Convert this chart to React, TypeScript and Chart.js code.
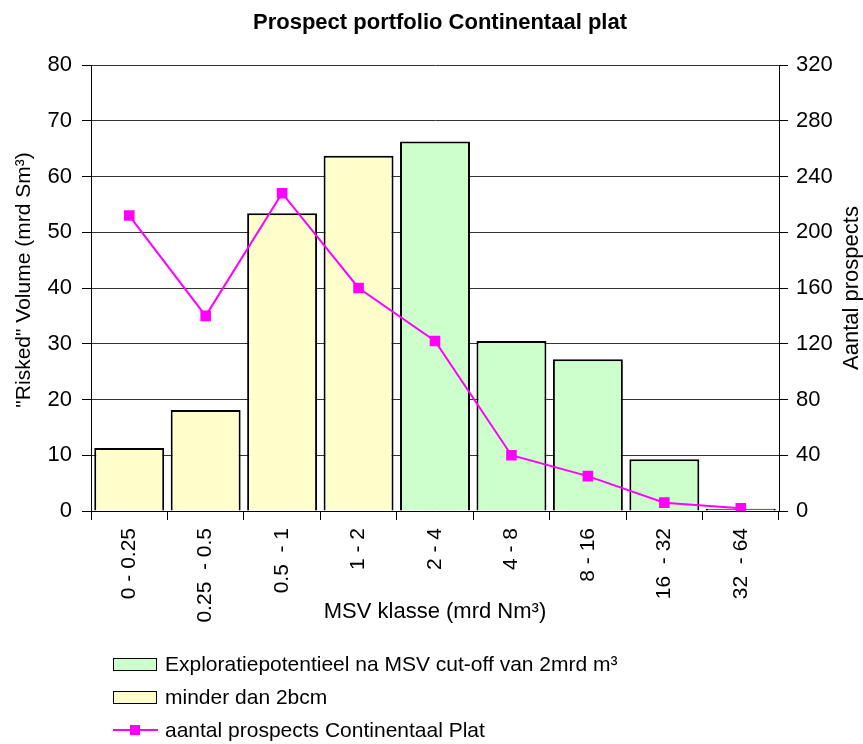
import React, { useEffect, useRef } from 'react';
import { Chart, registerables } from 'chart.js';

Chart.register(...registerables);

const categories = ['0 - 0.25', '0.25  - 0.5', '0.5  - 1', '1 - 2', '2 - 4', '4 - 8', '8 - 16', '16  - 32', '32  - 64'];
const explorationVolume = [null, null, null, null, 66.3, 30.5, 27.2, 9.3, 0.4];
const smallVolume = [11.3, 18.1, 53.4, 63.7, null, null, null, null, null];
const prospectCounts = [212, 140, 228, 160, 122, 40, 25, 6, 2];

const leftAxisMax = 80;
const leftAxisStep = 10;
const rightAxisMax = 320;
const rightAxisStep = 40;

const titleText = 'Prospect portfolio Continentaal plat';
const leftTitle = '"Risked" Volume (mrd Sm³)';
const rightTitle = 'Aantal prospects';
const xTitle = 'MSV klasse (mrd Nm³)';
const seriesNames = [
  'Exploratiepotentieel na MSV cut-off van 2mrd m³',
  'minder dan 2bcm',
  'aantal prospects Continentaal Plat',
];

const FONT = '"Liberation Sans", Arial, sans-serif';
const GREEN = '#CCFFCC';
const YELLOW = '#FFFFCC';
const MAGENTA = '#FF00FF';

const textPlugin = {
  id: 'customText',
  afterDraw(chart: any) {
    const ctx = chart.ctx;
    const area = chart.chartArea;
    ctx.save();
    ctx.fillStyle = '#000';
    ctx.font = `bold 22px ${FONT}`;
    ctx.textAlign = 'center';
    ctx.textBaseline = 'middle';
    ctx.fillText(titleText, 440, 23);

    ctx.save();
    ctx.translate(24, (area.top + area.bottom) / 2 - 8);
    ctx.rotate(-Math.PI / 2);
    ctx.font = `21px ${FONT}`;
    ctx.fillText(leftTitle, 0, 0);
    ctx.restore();

    ctx.translate(852, (area.top + area.bottom) / 2);
    ctx.rotate(-Math.PI / 2);
    ctx.font = `22px ${FONT}`;
    ctx.fillText(rightTitle, 0, 0);
    ctx.restore();
  },
};

export default function App() {
  const ref = useRef<HTMLCanvasElement | null>(null);

  useEffect(() => {
    if (!ref.current) return;
    const chart = new Chart(ref.current, {
      type: 'bar',
      data: {
        labels: categories,
        datasets: [
          {
            type: 'line',
            label: seriesNames[2],
            data: prospectCounts,
            yAxisID: 'y2',
            borderColor: MAGENTA,
            backgroundColor: MAGENTA,
            borderWidth: 2,
            pointStyle: 'rect',
            pointRadius: 7.5,
            pointBorderWidth: 0,
            pointBackgroundColor: MAGENTA,
            tension: 0,
            order: 0,
          } as any,
          {
            type: 'bar',
            label: seriesNames[0],
            data: explorationVolume,
            yAxisID: 'y',
            backgroundColor: GREEN,
            borderColor: '#000',
            borderWidth: 2,
            grouped: false,
            barPercentage: 0.915,
            categoryPercentage: 1,
            order: 1,
          } as any,
          {
            type: 'bar',
            label: seriesNames[1],
            data: smallVolume,
            yAxisID: 'y',
            backgroundColor: YELLOW,
            borderColor: '#000',
            borderWidth: 2,
            grouped: false,
            barPercentage: 0.915,
            categoryPercentage: 1,
            order: 2,
          } as any,
        ],
      },
      options: {
        responsive: false,
        devicePixelRatio: 1,
        animation: false,
        layout: { padding: { top: 65, left: 0, right: 0, bottom: 110 } },
        plugins: {
          legend: { display: false },
          tooltip: { enabled: false },
          title: { display: false },
        },
        scales: {
          x: {
            offset: true,
            grid: {
              display: true,
              drawOnChartArea: false,
              offset: true,
              tickLength: 9,
              tickColor: '#000',
              color: '#000',
            },
            border: { color: '#000', width: 1 },
            ticks: {
              autoSkip: false,
              minRotation: 90,
              maxRotation: 90,
              padding: 8,
              color: '#000',
              font: { family: FONT, size: 21 },
            },
            title: {
              display: true,
              text: xTitle,
              color: '#000',
              font: { family: FONT, size: 22 },
              padding: { top: 0, bottom: 9 },
            },
            afterFit: (s: any) => {
              s.height = 123;
            },
          },
          y: {
            position: 'left',
            min: 0,
            max: leftAxisMax,
            grid: {
              color: '#333',
              tickColor: '#000',
              tickLength: 9,
            },
            border: { color: '#000', width: 1 },
            ticks: {
              stepSize: leftAxisStep,
              padding: 10,
              color: '#000',
              font: { family: FONT, size: 22 },
            },
            afterFit: (s: any) => {
              s.width = 91;
            },
          },
          y2: {
            position: 'right',
            min: 0,
            max: rightAxisMax,
            grid: {
              drawOnChartArea: false,
              tickColor: '#000',
              tickLength: 9,
            },
            border: { color: '#000', width: 1 },
            ticks: {
              stepSize: rightAxisStep,
              padding: 8,
              color: '#000',
              font: { family: FONT, size: 22 },
            },
            afterFit: (s: any) => {
              s.width = 84;
            },
          },
        },
      } as any,
      plugins: [textPlugin],
    });
    return () => chart.destroy();
  }, []);

  const legendRow = (top: number, swatch: React.ReactNode, text: string) => (
    <div
      style={{
        position: 'absolute',
        left: 113,
        top: top - 14,
        height: 28,
        display: 'flex',
        alignItems: 'center',
        fontFamily: FONT,
        fontSize: 21,
        color: '#000',
        whiteSpace: 'nowrap',
      }}
    >
      <div style={{ width: 45, height: 28, position: 'relative', marginRight: 7 }}>{swatch}</div>
      <span>{text}</span>
    </div>
  );

  const box = (color: string) => (
    <div
      style={{
        position: 'absolute',
        left: 0,
        top: 8,
        width: 42,
        height: 11,
        background: color,
        border: '1.5px solid #000',
      }}
    />
  );

  const lineSwatch = (
    <>
      <div style={{ position: 'absolute', left: 0, top: 13, width: 45, height: 2, background: MAGENTA }} />
      <div style={{ position: 'absolute', left: 17, top: 9, width: 10, height: 10, background: MAGENTA }} />
    </>
  );

  return (
    <div style={{ position: 'fixed', left: 0, top: 0, width: 863, height: 744, background: '#fff' }}>
      <canvas ref={ref} width={863} height={744} style={{ display: 'block', width: 863, height: 744 }} />
      {legendRow(664, box(GREEN), seriesNames[0])}
      {legendRow(697, box(YELLOW), seriesNames[1])}
      {legendRow(730, lineSwatch, seriesNames[2])}
    </div>
  );
}
